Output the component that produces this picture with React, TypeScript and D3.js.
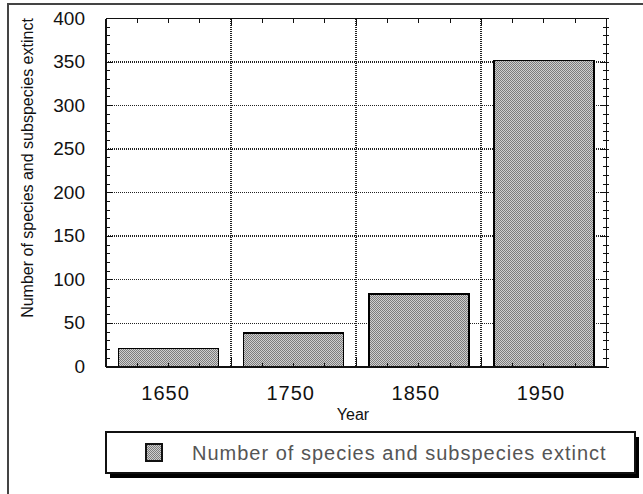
import React from "react";
import * as d3 from "d3";

const years = [1650, 1750, 1850, 1950];
const extinct = [21, 39, 84, 352];
const yTickValues = [0, 50, 100, 150, 200, 250, 300, 350, 400];
const xTickLabels = ["1650", "1750", "1850", "1950"];
const gridYears = [1700, 1800, 1900];
const seriesName = "Number of species and subspecies extinct";
const xTitle = "Year";

const W = 643;
const H = 494;

export default function App() {
  const x = d3.scaleLinear().domain([1600, 2000]).range([106, 606.5]);
  const y = d3.scaleLinear().domain([0, 400]).range([367, 18.5]);
  const barW = 80;
  const font = "'Liberation Sans', Arial, sans-serif";

  const minorY = d3.range(0, 401, 10);
  const minorX = d3.range(1600, 2001, 25);
  const left = x(1600);
  const right = x(2000);
  const top = y(400);
  const bottom = y(0);

  return (
    <svg
      width={W}
      height={H}
      style={{ position: "absolute", left: 0, top: 0, background: "#fff" }}
      shapeRendering="crispEdges"
    >
      <defs>
        <pattern id="dither" width="2" height="2" patternUnits="userSpaceOnUse">
          <rect x="0" y="0" width="2" height="2" fill="#cfcfcf" />
          <rect x="0" y="0" width="1" height="1" fill="#7c7c7c" />
          <rect x="1" y="1" width="1" height="1" fill="#7c7c7c" />
        </pattern>
      </defs>
      {/* outer frame */}
      <rect x={8} y={4} width={700} height={600} fill="#fff" stroke="#444" strokeWidth={1.6} />

      {/* horizontal gridlines */}
      {yTickValues
        .filter((v) => v > 0 && v < 400)
        .map((v, i) => (
          <line
            key={"hg" + v}
            x1={left}
            x2={right}
            y1={y(v)}
            y2={y(v)}
            stroke="#222"
            strokeWidth={(v / 50) % 2 === 1 ? 1.8 : 1}
            strokeDasharray="1,1"
          />
        ))}
      {/* vertical gridlines */}
      {gridYears.map((g) => (
        <line
          key={"vg" + g}
          x1={x(g)}
          x2={x(g)}
          y1={top}
          y2={bottom}
          stroke="#222"
          strokeWidth={1.8}
          strokeDasharray="1,1"
        />
      ))}

      {/* bars */}
      {years.map((yr, i) => (
        <rect
          key={"bar" + yr}
          x={x(yr - barW / 2)}
          y={y(extinct[i])}
          width={x(yr + barW / 2) - x(yr - barW / 2)}
          height={y(0) - y(extinct[i])}
          fill="url(#dither)"
          stroke="#000"
          strokeWidth={1.5}
        />
      ))}

      {/* plot box */}
      <line x1={left} x2={right} y1={top} y2={top} stroke="#111" strokeWidth={1.2} />
      <line x1={left} x2={left} y1={top} y2={bottom} stroke="#111" strokeWidth={1.5} />
      <line x1={right} x2={right} y1={top} y2={bottom} stroke="#111" strokeWidth={1.5} />
      <line x1={left} x2={right} y1={bottom} y2={bottom} stroke="#111" strokeWidth={1.5} />

      {/* left ticks */}
      {minorY.map((v) => (
        <line
          key={"lt" + v}
          x1={left}
          x2={left + (v % 50 === 0 ? 7 : 4)}
          y1={y(v)}
          y2={y(v)}
          stroke="#111"
          strokeWidth={1}
        />
      ))}
      {/* right ticks */}
      {minorY.map((v) => (
        <line
          key={"rt" + v}
          x1={right - (v % 50 === 0 ? 7 : 4)}
          x2={right + 2}
          y1={y(v)}
          y2={y(v)}
          stroke="#111"
          strokeWidth={1}
        />
      ))}
      {/* top ticks */}
      {minorX.map((v) => (
        <line
          key={"tt" + v}
          x1={x(v)}
          x2={x(v)}
          y1={top}
          y2={top + (v % 100 === 0 ? 7 : 4)}
          stroke="#111"
          strokeWidth={1}
        />
      ))}
      {/* bottom ticks */}
      {minorX.map((v) => (
        <line
          key={"bt" + v}
          x1={x(v)}
          x2={x(v)}
          y1={bottom}
          y2={bottom - (v % 100 === 0 ? 10 : 4)}
          stroke="#111"
          strokeWidth={1}
        />
      ))}

      {/* y tick labels */}
      {yTickValues.map((v) => (
        <text
          key={"yl" + v}
          x={85}
          y={y(v) + 6}
          textAnchor="end"
          fontFamily={font}
          fontSize={19}
          fill="#111"
        >
          {v}
        </text>
      ))}
      {/* x tick labels */}
      {years.map((yr, i) => (
        <text
          key={"xl" + yr}
          x={x(yr) - 3}
          y={400}
          textAnchor="middle"
          fontFamily={font}
          fontSize={20}
          letterSpacing={1}
          fill="#111"
        >
          {xTickLabels[i]}
        </text>
      ))}
      {/* x title */}
      <text x={353} y={420} textAnchor="middle" fontFamily={font} fontSize={16} fill="#111">
        {xTitle}
      </text>
      {/* y title */}
      <text
        transform="translate(33,168) rotate(-90)"
        textAnchor="middle"
        fontFamily={font}
        fontSize={16}
        fill="#111"
      >
        {seriesName}
      </text>

      {/* legend */}
      <rect x={110} y={437} width={529} height={41} fill="#000" />
      <rect x={106} y={432} width={529} height={41} fill="#fff" stroke="#111" strokeWidth={1.2} />
      <rect x={146} y={444} width={16} height={17} fill="url(#dither)" stroke="#111" strokeWidth={1.2} />
      <text x={192} y={460} fontFamily={font} fontSize={20} letterSpacing={1} fill="#555">
        {seriesName}
      </text>
    </svg>
  );
}
